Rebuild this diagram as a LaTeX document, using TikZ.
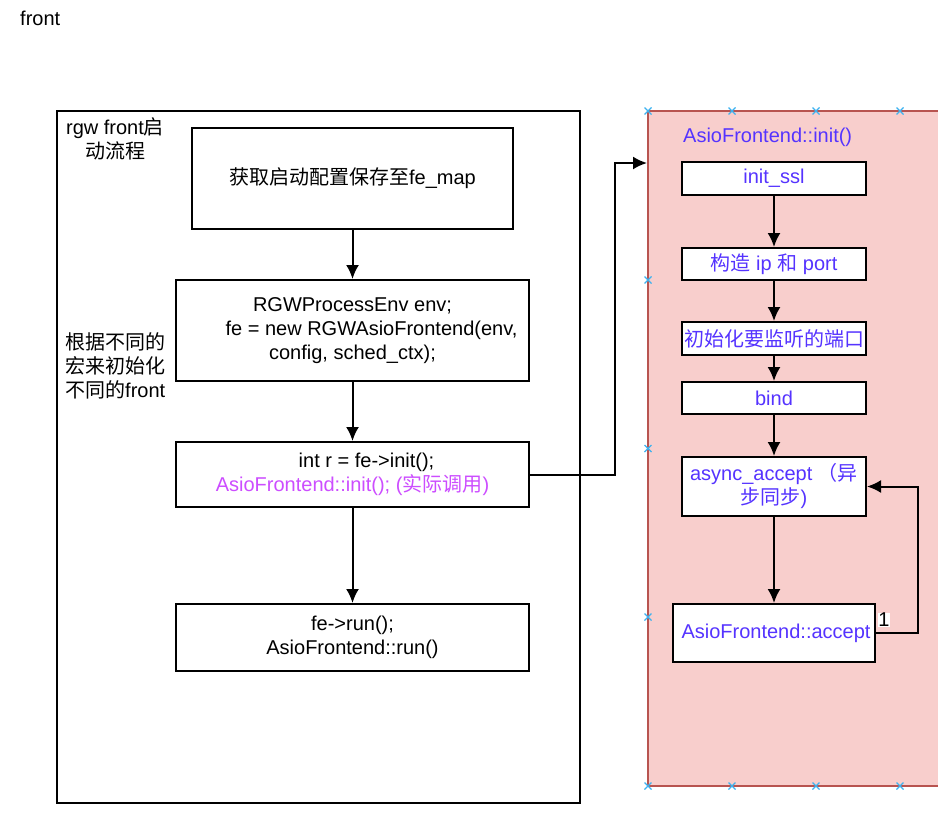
\documentclass[tikz,border=0pt]{standalone}
\usepackage{fontspec}
\setmainfont{Liberation Sans}
\newfontfamily\cjk{Noto Sans CJK SC}
\usetikzlibrary{arrows.meta}
\definecolor{pinkfill}{HTML}{F8CECC}
\definecolor{pinkline}{HTML}{B85450}
\definecolor{bluetxt}{HTML}{5533FF}
\definecolor{magtxt}{HTML}{CC4DFF}
\definecolor{mkblue}{HTML}{3DB2F0}
\newcommand\fs{\fontsize{20}{24}\selectfont}
\begin{document}
\begin{tikzpicture}[x=1pt,y=-1pt,
  box/.style={draw, line width=2pt, fill=white, inner sep=0pt, align=center, font=\fs},
  rbox/.style={box, text=bluetxt, minimum width=184pt},
  lbl/.style={inner sep=0pt, font=\fs},
  arr/.style={line width=2pt, -{Latex[length=14pt,width=13pt]}},
  mk/.style={mkblue, line width=1.3pt}]
\useasboundingbox (0,0) rectangle (938,825);

\node[lbl, anchor=west] (title) at (20,18) {front};

% left container
\node[draw, line width=2pt, minimum width=523pt, minimum height=692pt, inner sep=0pt] (outer) at (318.5,457) {};
\node[lbl, align=center] (otitle) at (115,138.5) {rgw front{\cjk 启}\\{\cjk 动流程}};
\node[lbl, align=left, anchor=west] (note) at (65,366) {{\cjk 根据不同的}\\{\cjk 宏来初始化}\\{\cjk 不同的}front};

\node[box, minimum width=321pt, minimum height=101pt] (b1) at (352.5,178.5) {{\cjk 获取启动配置保存至}fe\_map};
\node[box, minimum width=353pt, minimum height=101pt] (b2) at (352.5,330.5) {RGWProcessEnv env;\\\hspace*{38pt}fe = new RGWAsioFrontend(env,\\config, sched\_ctx);};
\node[box, minimum width=353pt, minimum height=65pt] (b3) at (352.5,474.5) {\hspace*{28pt}int r = fe-\textgreater init();\\\textcolor{magtxt}{AsioFrontend::init(); ({\cjk 实际调用})}};
\node[box, minimum width=353pt, minimum height=67pt] (b4) at (352.5,637.5) {fe-\textgreater run();\\AsioFrontend::run()};

\draw[arr] (b1) -- (b2);
\draw[arr] (b2) -- (b3);
\draw[arr] (b3) -- (b4);

% right panel
\node[draw=pinkline, fill=pinkfill, line width=2pt, minimum width=336pt, minimum height=675pt, inner sep=0pt] (panel) at (816,448.5) {};
\node[lbl, text=bluetxt, anchor=west] (ptitle) at (683,137) {AsioFrontend::init()};

\node[rbox, minimum height=33pt] (r1) at (774,178.5) {init\_ssl};
\node[rbox, minimum height=32pt] (r2) at (774,264) {{\cjk 构造} ip {\cjk 和} port};
\node[rbox, minimum height=33pt] (r3) at (774,338.5) {{\cjk 初始化要监听的端口}};
\node[rbox, minimum height=32pt] (r4) at (774,398) {bind};
\node[rbox, minimum height=59pt] (r5) at (774,486.5) {async\_accept\ {\cjk （异}\\{\cjk 步同步})};
\node[box, text=bluetxt, minimum width=202pt, minimum height=58pt] (r6) at (774,633) {\hspace*{4pt}AsioFrontend::accept};

\draw[arr] (r1) -- (r2);
\draw[arr] (r2) -- (r3);
\draw[arr] (r3) -- (r4);
\draw[arr] (r4) -- (r5);
\draw[arr] (r5) -- (r6);
\draw[arr] (r6.east) -- ++(42,0) |- (r5.east);
\node[lbl, fill=white, inner sep=0.5pt] (one) at (884,620) {1};

% connector from left to panel
\coordinate (pin) at (panel.west |- 0,163);
\draw[arr] (b3.east) -- ++(85,0) |- (pin);

% connection markers
\foreach \px/\py in {648/111,732/111,816/111,900/111,984/111,648/786,732/786,816/786,900/786,984/786,648/280,648/448.5,648/617}
  \draw[mk] (\px-3.5,\py-3.5) -- (\px+3.5,\py+3.5) (\px-3.5,\py+3.5) -- (\px+3.5,\py-3.5);
\end{tikzpicture}
\end{document}
